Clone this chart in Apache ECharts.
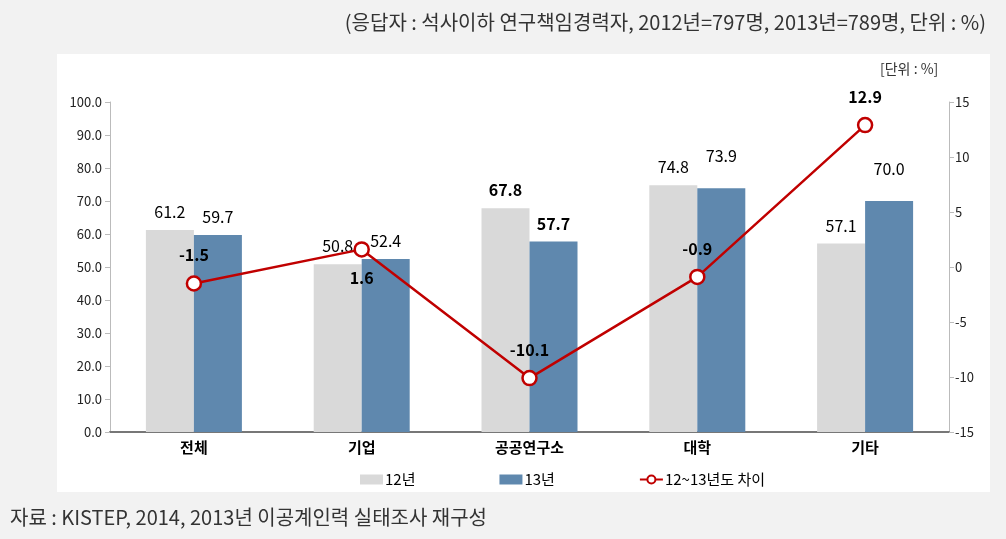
<!DOCTYPE html>
<html><head><meta charset="utf-8">
<script src="https://cdn.jsdelivr.net/npm/echarts@6/dist/echarts.min.js"></script>
<style>html,body{margin:0;padding:0;background:#f2f2f2;}#c{width:1006px;height:539px;}</style>
</head><body><div id="c"></div>
<script>
const categories = ['전체', '기업', '공공연구소', '대학', '기타'];
const values2012 = [61.2, 50.8, 67.8, 74.8, 57.1];
const values2013 = [59.7, 52.4, 57.7, 73.9, 70.0];
const diff = [-1.5, 1.6, -10.1, -0.9, 12.9];
const leftTicks = [0, 100, 10];
const rightTicks = [-15, 15, 5];
const seriesNames = ['12년', '13년', '12~13년도 차이'];

const FONT = '"Noto Sans CJK KR", "Noto Sans", sans-serif';
const bold2012 = [false, false, true, false, false];
const bold2013 = [false, false, true, false, false];
const extra2013 = [0, 0, 0, 14, 14];
const lineLabelBelow = [false, true, false, false, false];

const chart = echarts.init(document.getElementById('c'));
chart.setOption({
  backgroundColor: '#f2f2f2',
  textStyle: {fontFamily: FONT},
  graphic: [
    {type: 'rect', z: -10, shape: {x: 57, y: 54, width: 933, height: 438}, style: {fill: '#ffffff'}},
    {type: 'text', right: 20, top: 12, style: {text: '(응답자 : 석사이하 연구책임경력자, 2012년=797명, 2013년=789명, 단위 : %)', fill: '#333', font: '20px ' + FONT}},
    {type: 'text', left: 880, top: 62, style: {text: '[단위 : %]', fill: '#333', font: '14px ' + FONT}},
    {type: 'text', left: 10, top: 507, style: {text: '자료 : KISTEP, 2014, 2013년 이공계인력 실태조사 재구성', fill: '#333', font: '20px ' + FONT}}
  ],
  grid: {left: 110, right: 57, top: 102, bottom: 107},
  legend: {
    top: 467, left: 355, itemGap: 84, itemWidth: 23, itemHeight: 10,
    textStyle: {fontSize: 15, color: '#000', fontFamily: FONT, padding: [0, 0, 0, -3]},
    data: [
      {name: seriesNames[0], icon: 'rect'},
      {name: seriesNames[1], icon: 'rect'},
      {name: seriesNames[2]}
    ]
  },
  xAxis: {
    type: 'category', data: categories,
    axisLine: {lineStyle: {color: '#777', width: 2}},
    axisTick: {show: false},
    axisLabel: {fontSize: 15, fontWeight: 'bold', color: '#000', margin: 8}
  },
  yAxis: [
    {type: 'value', min: leftTicks[0], max: leftTicks[1], interval: leftTicks[2],
     axisLine: {show: true, lineStyle: {color: '#bbb'}},
     axisTick: {show: true, length: 5, lineStyle: {color: '#bbb'}},
     splitLine: {show: false},
     axisLabel: {formatter: v => v.toFixed(1), fontSize: 13, color: '#222', margin: 8}},
    {type: 'value', min: rightTicks[0], max: rightTicks[1], interval: rightTicks[2], position: 'right',
     axisLine: {show: true, lineStyle: {color: '#bbb'}},
     axisTick: {show: true, length: 5, lineStyle: {color: '#bbb'}},
     splitLine: {show: false},
     axisLabel: {fontSize: 13, color: '#222', margin: 6}}
  ],
  series: [
    {name: seriesNames[0], type: 'bar', barWidth: 48, barGap: '0%',
     itemStyle: {color: '#d9d9d9'},
     data: values2012.map((v, i) => ({value: v, label: {fontWeight: bold2012[i] ? 'bold' : 'normal'}})),
     label: {show: true, position: 'top', distance: 10, fontSize: 16, color: '#000', formatter: p => p.value.toFixed(1)}},
    {name: seriesNames[1], type: 'bar', barWidth: 48, barGap: '0%',
     itemStyle: {color: '#5f88ae'},
     data: values2013.map((v, i) => ({value: v, label: {fontWeight: bold2013[i] ? 'bold' : 'normal', distance: 10 + extra2013[i]}})),
     label: {show: true, position: 'top', distance: 10, fontSize: 16, color: '#000', formatter: p => p.value.toFixed(1)}},
    {name: seriesNames[2], type: 'line', yAxisIndex: 1,
     symbol: 'circle', symbolSize: 14,
     itemStyle: {color: '#fff', borderColor: '#c00000', borderWidth: 2.5},
     lineStyle: {color: '#c00000', width: 2.5},
     data: diff.map((v, i) => ({value: v, label: {position: lineLabelBelow[i] ? 'bottom' : 'top'}})),
     label: {show: true, position: 'top', distance: 12, fontSize: 16, fontWeight: 'bold', color: '#000', formatter: p => p.value.toFixed(1)},
     z: 5}
  ]
});
</script></body></html>
